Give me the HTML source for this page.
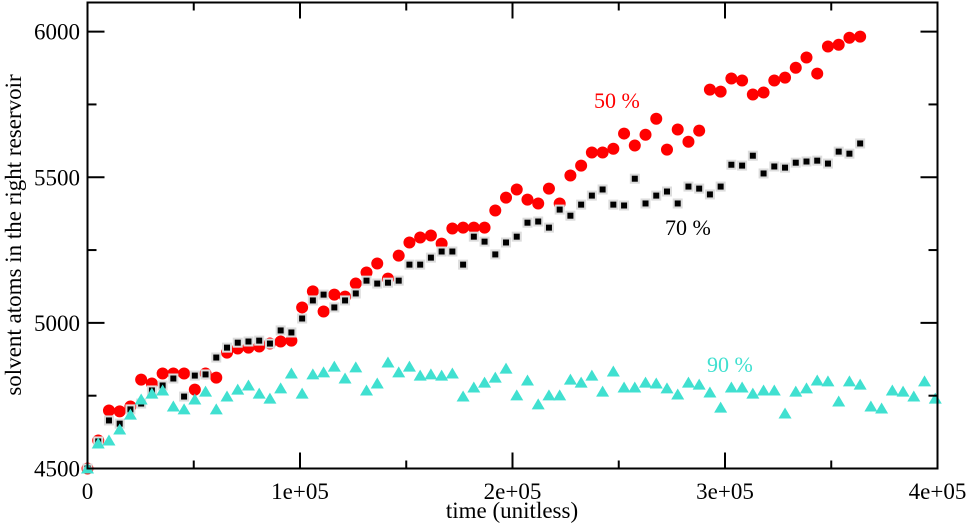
<!DOCTYPE html>
<html><head><meta charset="utf-8"><style>
html,body{margin:0;padding:0;background:#fff;}
svg{display:block;font-family:"Liberation Serif",serif;}
</style></head><body>
<svg id="chart" width="968" height="526" viewBox="0 0 968 526" xmlns="http://www.w3.org/2000/svg">
<g id="marks"></g>
<rect x="87.5" y="2.5" width="850" height="466" fill="none" stroke="#000" stroke-width="2"/>
<g id="axes"></g>
<text x="594" y="108" fill="#ff0000" font-size="22">50 %</text>
<text x="665" y="235" fill="#000" font-size="22">70 %</text>
<text x="707" y="372" fill="#40e0d0" font-size="22">90 %</text>
<text x="512" y="518" text-anchor="middle" font-size="23">time (unitless)</text>
<text transform="translate(21,235) rotate(-90)" text-anchor="middle" font-size="23">solvent atoms in the right reservoir</text>
</svg>
<script>
const timeStep = 5050;
const red50 = [4500,4596,4699,4696,4713,4805,4792,4826,4826,4826,4771,4826,4812,4898,4912,4915,4919,4929,4936,4939,5053,5108,5039,5097,5090,5135,5173,5204,5152,5231,5276,5293,5300,5272,5324,5327,5327,5327,5386,5430,5458,5423,5410,5461,5410,5506,5540,5585,5585,5598,5650,5609,5646,5701,5595,5664,5622,5660,5801,5794,5839,5832,5784,5791,5832,5842,5876,5911,5856,5949,5955,5979,5983];
const black70 = [4500,4593,4665,4654,4703,4723,4768,4785,4809,4747,4819,4823,4881,4915,4932,4936,4939,4929,4974,4967,5015,5077,5097,5053,5077,5101,5145,5135,5138,5145,5200,5200,5224,5245,5245,5200,5296,5279,5235,5276,5296,5344,5348,5327,5389,5368,5406,5437,5458,5406,5403,5495,5410,5437,5451,5410,5468,5461,5441,5468,5543,5540,5574,5513,5537,5533,5550,5554,5557,5547,5588,5581,5616];
const cyan90 = [4500,4586,4596,4634,4685,4737,4757,4768,4713,4703,4737,4764,4703,4747,4771,4785,4757,4740,4775,4826,4757,4823,4830,4850,4809,4847,4768,4792,4864,4830,4850,4819,4823,4819,4826,4747,4778,4795,4812,4843,4751,4802,4720,4751,4751,4805,4795,4819,4764,4833,4778,4778,4795,4792,4775,4754,4795,4788,4761,4709,4778,4778,4757,4768,4768,4689,4764,4775,4802,4799,4730,4799,4788,4713,4706,4768,4764,4747,4799,4740];
const xTicks = [0,100000,200000,300000,400000];
const xTickLabels = ["0","1e+05","2e+05","3e+05","4e+05"];
const yTicks = [4500,5000,5500,6000];
const yTickLabels = ["4500","5000","5500","6000"];

const NS = "http://www.w3.org/2000/svg";
function xs(t){ return 87.5 + t/400000*850; }
function ys(v){ return 468.5 - (v-4500)/1600*466; }
function mk(tag, attrs, parent){ const e=document.createElementNS(NS,tag); for(const k in attrs) e.setAttribute(k,attrs[k]); parent.appendChild(e); return e; }
const marks = document.getElementById('marks');
const axes = document.getElementById('axes');

red50.forEach((v,i)=>{
  const c = mk('circle',{cx:xs(i*timeStep),cy:ys(v),r:6,fill:'#ff0000'},marks);
  
  
});
black70.forEach((v,i)=>{
  const g = mk('g',{},marks);
  
  
  const x=xs(i*timeStep), y=ys(v);
  mk('rect',{x:x-5,y:y-5,width:10,height:10,fill:'#dcdcdc'},g);
  mk('rect',{x:x-3,y:y-3,width:6,height:6,fill:'#000'},g);
});
cyan90.forEach((v,i)=>{
  const x=xs(i*timeStep), y=ys(v);
  const p = mk('polygon',{points:`${x-6.5},${y+5} ${x+6.5},${y+5} ${x},${y-6}`,fill:'#40e0d0'},marks);
  
  
});

for(let t=0;t<=400000;t+=50000){
  const major = t%100000===0;
  const x = xs(t);
  const l1 = mk('line',{x1:x,x2:x,y1:468.5,y2:468.5-(major?16:8),stroke:'#000','stroke-width':2},axes);
  
  
  const l2 = mk('line',{x1:x,x2:x,y1:2.5,y2:2.5+(major?16:8),stroke:'#000','stroke-width':2},axes);
  
  
}
for(let v=4500;v<=6000;v+=250){
  const major = v%500===0;
  const y = ys(v);
  const l1 = mk('line',{x1:87.5,x2:87.5+(major?17:9),y1:y,y2:y,stroke:'#000','stroke-width':2},axes);
  
  
  const l2 = mk('line',{x1:937.5,x2:937.5-(major?17:9),y1:y,y2:y,stroke:'#000','stroke-width':2},axes);
  
  
}
xTicks.forEach((t,i)=>{
  const tx = mk('text',{x:xs(t),y:499,'text-anchor':'middle','font-size':23},axes);
  tx.textContent = xTickLabels[i];
  
  
});
yTicks.forEach((v,i)=>{
  const tx = mk('text',{x:80,y:ys(v)+8,'text-anchor':'end','font-size':23},axes);
  tx.textContent = yTickLabels[i];
  
  
});
</script>
</body></html>
